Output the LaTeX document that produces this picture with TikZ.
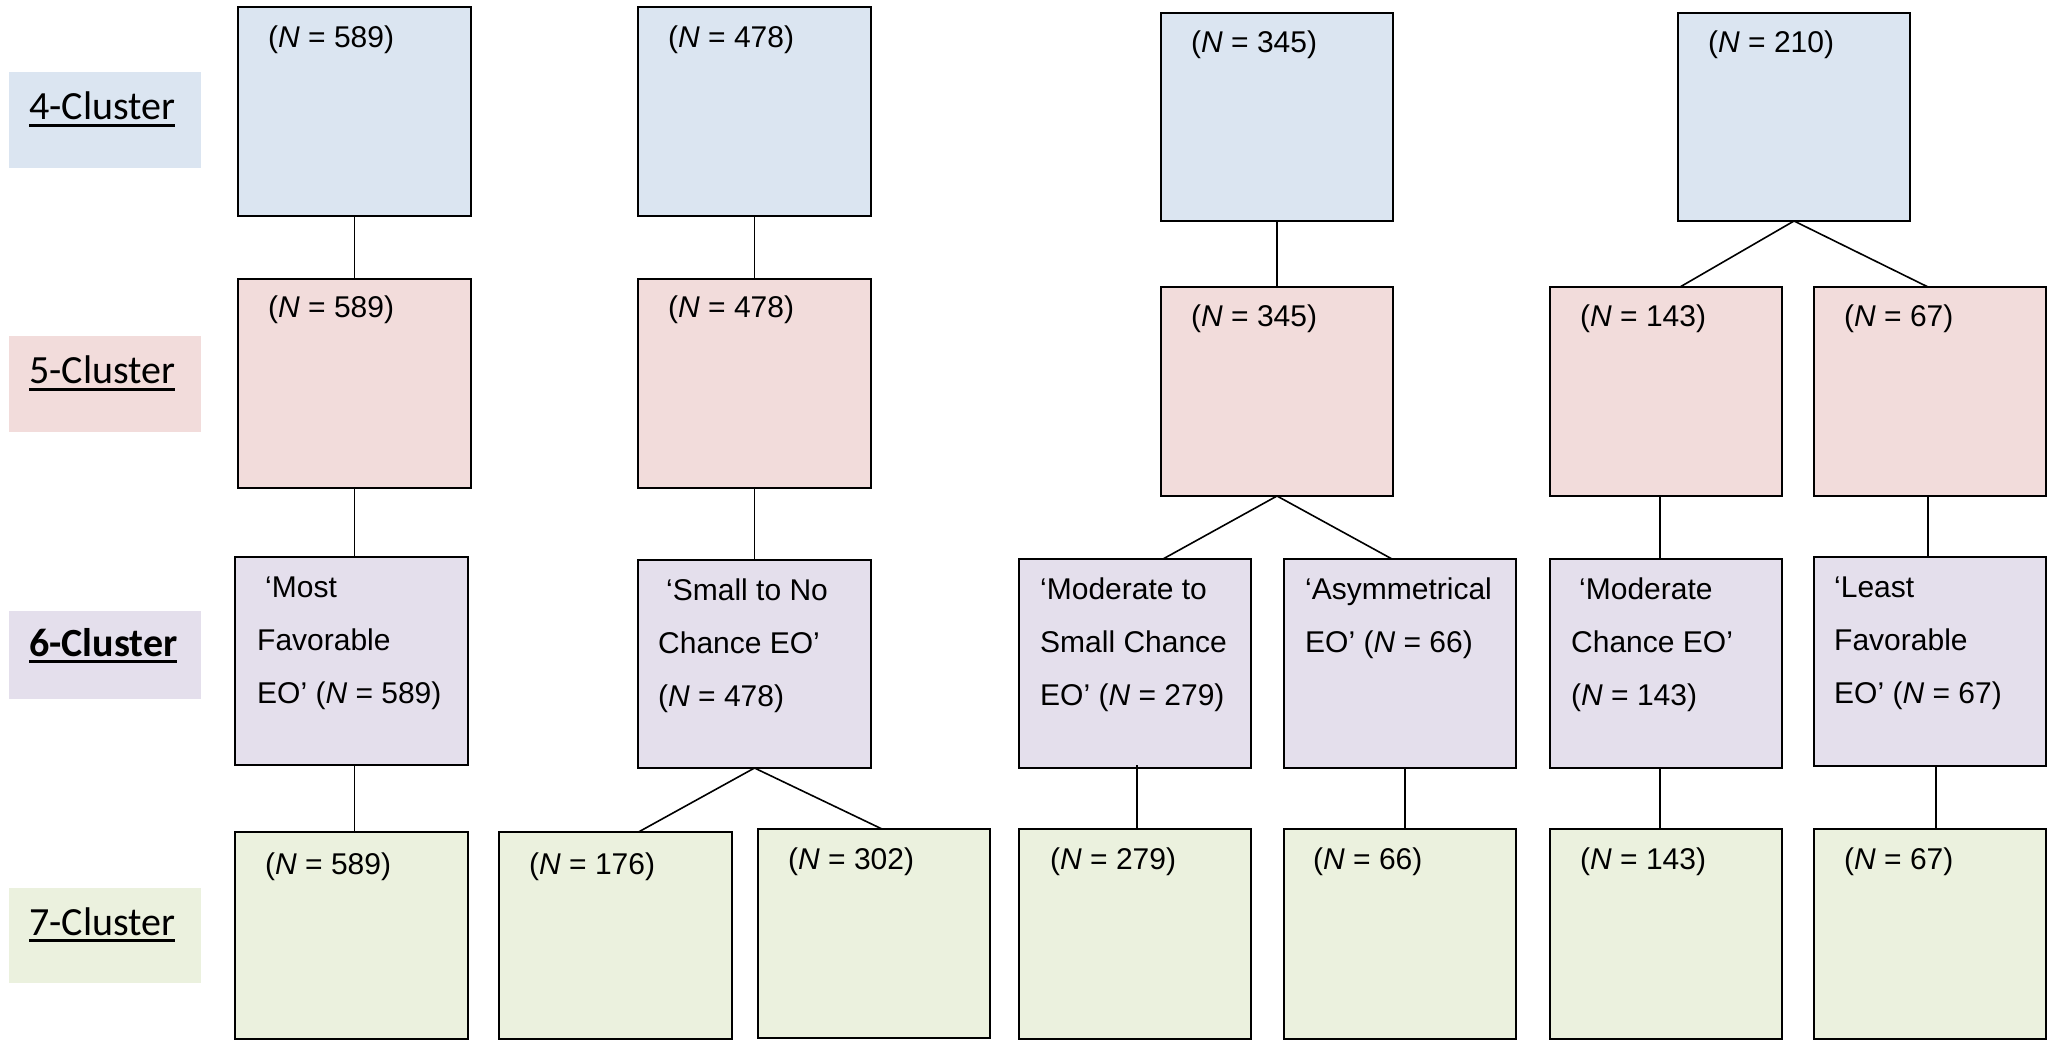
\documentclass[tikz,border=0pt]{standalone}
\usepackage{fontspec}
\setmainfont{Liberation Sans}
\newfontfamily\calfont{Carlito}
\usetikzlibrary{calc}
\definecolor{cblue}{HTML}{DBE5F1}
\definecolor{cpink}{HTML}{F2DCDB}
\definecolor{cpurp}{HTML}{E4DFEC}
\definecolor{cgreen}{HTML}{EBF1DE}
\newcommand\myul[1]{\sbox0{#1}\rlap{\rule[-7pt]{\wd0}{2.8pt}}\usebox0}
\newcommand\NN[1]{(\textit{N} = #1)}
\begin{document}
\begin{tikzpicture}[x=1pt,y=-1pt,
  box/.style={draw=black, line width=2.4pt, anchor=north west, inner sep=0pt, outer sep=0pt, minimum width=233pt, minimum height=209pt},
  lab/.style={anchor=north west, inner sep=0pt, outer sep=0pt, minimum width=192pt, minimum height=96pt},
  txt/.style={anchor=base west, inner sep=0pt, font=\fontsize{30}{53}\selectfont},
  labtxt/.style={anchor=base west, inner sep=0pt, font=\calfont\fontsize{40}{48}\selectfont},
  conn/.style={line width=1.6pt}]
\useasboundingbox (0,0) rectangle (2051,1040);
% row labels
\node[lab, fill=cblue] (l4) at (9,72) {};
\node[lab, fill=cpink] (l5) at (9,336) {};
\node[lab, fill=cpurp, minimum height=88pt] (l6) at (9,611) {};
\node[lab, fill=cgreen, minimum height=95pt] (l7) at (9,888) {};
\node[labtxt] (lt4) at (29,120) {\myul{4-Cluster}};
\node[labtxt] (lt5) at (29,384) {\myul{5-Cluster}};
\node[labtxt] (lt6) at (29,656) {\myul{\bfseries 6-Cluster}};
\node[labtxt] (lt7) at (29,935) {\myul{7-Cluster}};
% 4-cluster
\node[box, fill=cblue] (b4a) at (238,7) {};
\node[box, fill=cblue] (b4b) at (638,7) {};
\node[box, fill=cblue, minimum width=232pt, minimum height=208pt] (b4c) at (1161,13) {};
\node[box, fill=cblue, minimum width=232pt, minimum height=208pt] (b4d) at (1678,13) {};
% 5-cluster
\node[box, fill=cpink] (b5a) at (238,279) {};
\node[box, fill=cpink] (b5b) at (638,279) {};
\node[box, fill=cpink, minimum width=232pt] (b5c) at (1161,287) {};
\node[box, fill=cpink, minimum width=232pt] (b5d) at (1550,287) {};
\node[box, fill=cpink, minimum width=232pt] (b5e) at (1814,287) {};
% 6-cluster
\node[box, fill=cpurp, minimum height=208pt] (b6a) at (235,557) {};
\node[box, fill=cpurp, minimum height=208pt] (b6b) at (638,560) {};
\node[box, fill=cpurp, minimum width=232pt] (b6c) at (1019,559) {};
\node[box, fill=cpurp, minimum width=232pt] (b6d) at (1284,559) {};
\node[box, fill=cpurp, minimum width=232pt] (b6e) at (1550,559) {};
\node[box, fill=cpurp, minimum width=232pt] (b6f) at (1814,557) {};
% 7-cluster
\node[box, fill=cgreen, minimum height=207pt] (b7a) at (235,832) {};
\node[box, fill=cgreen, minimum height=207pt] (b7b) at (499,832) {};
\node[box, fill=cgreen, minimum width=232pt] (b7c) at (758,829) {};
\node[box, fill=cgreen, minimum width=232pt, minimum height=210pt] (b7d) at (1019,829) {};
\node[box, fill=cgreen, minimum width=232pt, minimum height=210pt] (b7e) at (1284,829) {};
\node[box, fill=cgreen, minimum width=232pt, minimum height=210pt] (b7f) at (1550,829) {};
\node[box, fill=cgreen, minimum width=232pt, minimum height=210pt] (b7g) at (1814,829) {};
% texts
\node[txt] (t4a) at (268,48) {\NN{589}};
\node[txt] (t4b) at (668,48) {\NN{478}};
\node[txt] (t4c) at (1191,53) {\NN{345}};
\node[txt] (t4d) at (1708,53) {\NN{210}};
\node[txt] (t5a) at (268,318) {\NN{589}};
\node[txt] (t5b) at (668,318) {\NN{478}};
\node[txt] (t5c) at (1191,327) {\NN{345}};
\node[txt] (t5d) at (1580,327) {\NN{143}};
\node[txt] (t5e) at (1844,327) {\NN{67}};
\node[txt] (t6a) at (257,597) {\begin{tabular}[t]{@{}l@{}}\hspace{8pt}‘Most\\Favorable\\EO’ \NN{589}\end{tabular}};
\node[txt] (t6b) at (658,600) {\begin{tabular}[t]{@{}l@{}}\hspace{8pt}‘Small to No\\Chance EO’\\\NN{478}\end{tabular}};
\node[txt] (t6c) at (1040,599) {\begin{tabular}[t]{@{}l@{}}‘Moderate to\\Small Chance\\EO’ \NN{279}\end{tabular}};
\node[txt] (t6d) at (1305,599) {\begin{tabular}[t]{@{}l@{}}‘Asymmetrical\\EO’ \NN{66}\end{tabular}};
\node[txt] (t6e) at (1571,599) {\begin{tabular}[t]{@{}l@{}}\hspace{8pt}‘Moderate\\Chance EO’\\\NN{143}\end{tabular}};
\node[txt] (t6f) at (1834,597) {\begin{tabular}[t]{@{}l@{}}‘Least\\Favorable\\EO’ \NN{67}\end{tabular}};
\node[txt] (t7a) at (265,874) {\NN{589}};
\node[txt] (t7b) at (529,874) {\NN{176}};
\node[txt] (t7c) at (788,869) {\NN{302}};
\node[txt] (t7d) at (1050,869) {\NN{279}};
\node[txt] (t7e) at (1313,869) {\NN{66}};
\node[txt] (t7f) at (1580,869) {\NN{143}};
\node[txt] (t7g) at (1844,869) {\NN{67}};
% connectors
\draw[conn] (b4a.south) -- (b4a.south |- b5a.north);
\draw[conn] (b5a.south) -- (b5a.south |- b6a.north);
\draw[conn] (b6a.south) ++(3,0) -- ($(b6a.south |- b7a.north)+(3,0)$);
\draw[conn] (b4b.south) -- (b4b.south |- b5b.north);
\draw[conn] (b5b.south) -- (b5b.south |- b6b.north);
\draw[conn] ($(b7b.north)+(23,0)$) -- (b6b.south) -- ($(b7c.north)+(8,0)$);
\draw[conn] (b4c.south) -- (b4c.south |- b5c.north);
\draw[conn] ($(b6c.north)+(28,0)$) -- (b5c.south) -- ($(b6d.north)+(-8,0)$);
\draw[conn] ($(b6c.south)+(2,-3)$) -- ($(b7d.north)+(2,0)$);
\draw[conn] ($(b6d.south)+(5,0)$) -- ($(b7e.north)+(5,0)$);
\draw[conn] ($(b5d.north)+(14,0)$) -- (b4d.south) -- ($(b5e.north)+(-2,0)$);
\draw[conn] ($(b5d.south)+(-6,0)$) -- ($(b6e.north)+(-6,0)$);
\draw[conn] ($(b5e.south)+(-2,0)$) -- ($(b6f.north)+(-2,0)$);
\draw[conn] ($(b6e.south)+(-6,0)$) -- ($(b7f.north)+(-6,0)$);
\draw[conn] ($(b6f.south)+(6,0)$) -- ($(b7g.north)+(6,0)$);
\end{tikzpicture}
\end{document}
